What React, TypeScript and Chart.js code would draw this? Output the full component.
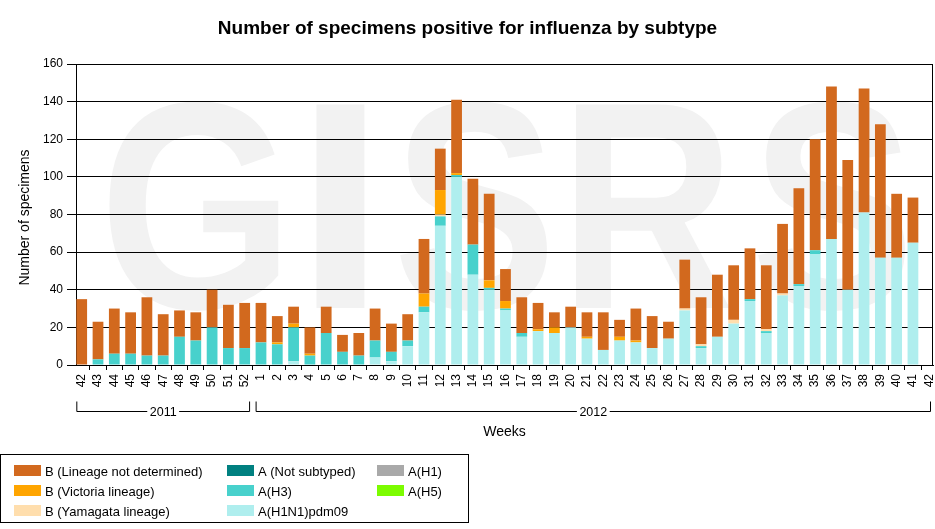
import React, { useEffect, useRef } from 'react';
import { Chart, registerables } from 'chart.js';

Chart.register(...registerables);

// ---------- data ----------
const WEEKS_2011 = ['42', '43', '44', '45', '46', '47', '48', '49', '50', '51', '52'];
const WEEKS_2012 = [
  '1', '2', '3', '4', '5', '6', '7', '8', '9', '10',
  '11', '12', '13', '14', '15', '16', '17', '18', '19', '20',
  '21', '22', '23', '24', '25', '26', '27', '28', '29', '30',
  '31', '32', '33', '34', '35', '36', '37', '38', '39', '40',
  '41', '42',
];
const YEAR_LABELS = ['2011', '2012'];
const WEEKS = [...WEEKS_2011, ...WEEKS_2012];

const Y_MIN = 0;
const Y_MAX = 160;
const Y_STEP = 20;

//                      2011: 42..52                       | 2012: 1..10                   | 11..20                              | 21..30                        | 31..40                          | 41,42
const A_H1N1PDM09 = [0, 0, 0, 0, 0, 0, 0, 0, 0, 0, 0, 0, 0, 2, 0, 0, 0, 0, 4, 2, 10, 28, 74, 100, 48, 40, 29, 15, 18, 17, 20, 14, 8, 13, 12, 9, 14, 29, 9, 15, 22, 34, 17, 37, 42, 59, 67, 40, 81, 57, 57, 65, 0];
const A_H3 = [0, 3, 6, 6, 5, 5, 15, 13, 20, 9, 9, 12, 11, 18, 5, 17, 7, 5, 9, 5, 3, 3, 5, 1, 16, 1, 1, 2, 0, 0, 0, 0, 0, 0, 0, 0, 0, 0, 1, 0, 0, 1, 1, 0, 1, 2, 0, 0, 0, 0, 0, 0, 0];
const A_NOT_SUBTYPED = [0, 0, 0, 0, 0, 0, 0, 0, 0, 0, 0, 0, 0, 0, 0, 0, 0, 0, 0, 0, 0, 0, 0, 0, 0, 0, 0, 0, 0, 0, 0, 0, 0, 0, 0, 0, 0, 0, 0, 0, 0, 0, 0, 0, 0, 0, 0, 0, 0, 0, 0, 0, 0];
const A_H1 = [0, 0, 0, 0, 0, 0, 0, 0, 0, 0, 0, 0, 0, 0, 0, 0, 0, 0, 0, 0, 0, 0, 0, 0, 0, 0, 0, 0, 0, 0, 0, 0, 0, 0, 0, 0, 0, 0, 0, 0, 0, 0, 0, 0, 0, 0, 0, 0, 0, 0, 0, 0, 0];
const A_H5 = [0, 0, 0, 0, 0, 0, 0, 0, 0, 0, 0, 0, 0, 0, 0, 0, 0, 0, 0, 0, 0, 0, 0, 0, 0, 0, 0, 0, 0, 0, 0, 0, 0, 0, 0, 0, 0, 0, 0, 0, 0, 0, 0, 0, 0, 0, 0, 0, 0, 0, 0, 0, 0];
const B_YAMAGATA = [0, 0, 0, 0, 0, 0, 0, 0, 0, 0, 0, 0, 0, 0, 0, 0, 0, 0, 0, 0, 0, 0, 1, 0, 0, 0, 0, 0, 0, 0, 0, 0, 0, 0, 0, 0, 0, 1, 1, 0, 2, 0, 1, 1, 0, 0, 0, 0, 0, 0, 0, 0, 0];
const B_VICTORIA = [0, 0, 0, 0, 0, 0, 0, 0, 0, 0, 0, 0, 1, 2, 1, 0, 0, 0, 0, 0, 0, 7, 13, 1, 0, 4, 4, 0, 1, 3, 0, 1, 0, 2, 1, 0, 0, 0, 0, 0, 0, 0, 0, 0, 0, 0, 0, 0, 0, 0, 0, 0, 0];
const B_NOT_DETERMINED = [35, 20, 24, 22, 31, 22, 14, 15, 20, 23, 24, 21, 14, 9, 14, 14, 9, 12, 17, 15, 14, 29, 22, 39, 35, 46, 17, 19, 14, 8, 11, 13, 20, 9, 17, 17, 9, 26, 25, 33, 29, 27, 34, 37, 51, 59, 81, 69, 66, 71, 34, 24, 0];

// series in stacking order (bottom -> top)
const SERIES = [
  { label: 'A(H1N1)pdm09', values: A_H1N1PDM09, color: '#AFEEEE' },
  { label: 'A(H3)', values: A_H3, color: '#48D1CC' },
  { label: 'A (Not subtyped)', values: A_NOT_SUBTYPED, color: '#008080' },
  { label: 'A(H1)', values: A_H1, color: '#A9A9A9' },
  { label: 'A(H5)', values: A_H5, color: '#7CFC00' },
  { label: 'B (Yamagata lineage)', values: B_YAMAGATA, color: '#FFDEAD' },
  { label: 'B (Victoria lineage)', values: B_VICTORIA, color: '#FFA500' },
  { label: 'B (Lineage not determined)', values: B_NOT_DETERMINED, color: '#D2691E' },
];

// legend columns (top -> bottom)
const LEGEND_COLUMNS = [
  ['B (Lineage not determined)', 'B (Victoria lineage)', 'B (Yamagata lineage)'],
  ['A (Not subtyped)', 'A(H3)', 'A(H1N1)pdm09'],
  ['A(H1)', 'A(H5)'],
];

const TITLE = 'Number of specimens positive for influenza by subtype';
const Y_TITLE = 'Number of specimens';
const X_TITLE = 'Weeks';
const WATERMARK = 'GISRS';

// ---------- styling ----------
const FONT = '"Liberation Sans", Arial, Helvetica, sans-serif';
const W = 935;
const H = 529;

const decorPlugin = {
  id: 'decor',
  beforeDraw(chart: any) {
    const ctx: CanvasRenderingContext2D = chart.ctx;
    ctx.save();
    ctx.fillStyle = '#ffffff';
    ctx.fillRect(0, 0, chart.width, chart.height);
    // watermark
    const inkX = [[107, 279], [315, 367], [397, 550], [575, 730], [755, 908]];
    const top = 100;
    const base = 308;
    ctx.font = `bold 290px ${FONT}`;
    ctx.textAlign = 'left';
    ctx.textBaseline = 'alphabetic';
    ctx.fillStyle = '#f2f2f2';
    const capH = ctx.measureText('I').actualBoundingBoxAscent || 207;
    const sy = (base - top) / capH;
    WATERMARK.split('').forEach((ch, i) => {
      const m = ctx.measureText(ch);
      const inkW = (m.actualBoundingBoxLeft + m.actualBoundingBoxRight) || m.width;
      const [x0, x1] = inkX[i];
      ctx.save();
      ctx.translate(x0, base);
      ctx.scale((x1 - x0) / inkW, sy);
      ctx.fillText(ch, m.actualBoundingBoxLeft, 0);
      ctx.restore();
    });
    ctx.restore();
  },
  afterDraw(chart: any) {
    const ctx: CanvasRenderingContext2D = chart.ctx;
    const area = chart.chartArea;
    const xs = chart.scales.x;
    ctx.save();
    ctx.fillStyle = '#000';
    ctx.strokeStyle = '#000';
    ctx.lineWidth = 1;

    // right border of plot
    ctx.beginPath();
    ctx.moveTo(Math.round(area.right) - 0.5, area.top);
    ctx.lineTo(Math.round(area.right) - 0.5, area.bottom);
    ctx.stroke();

    // title
    ctx.font = `bold 19px ${FONT}`;
    ctx.textAlign = 'center';
    ctx.textBaseline = 'alphabetic';
    ctx.fillText(TITLE, W / 2, 34);

    // y title
    ctx.font = `14px ${FONT}`;
    ctx.save();
    ctx.translate(28.5, (area.top + area.bottom) / 2 + 3);
    ctx.rotate(-Math.PI / 2);
    ctx.fillText(Y_TITLE, 0, 0);
    ctx.restore();

    // x title
    ctx.fillText(X_TITLE, (area.left + area.right) / 2, 436);

    // year brackets
    const groups = [
      { label: YEAR_LABELS[0], from: 0, to: WEEKS_2011.length - 1 },
      { label: YEAR_LABELS[1], from: WEEKS_2011.length, to: WEEKS.length - 1 },
    ];
    const lineY = 411.5;
    const tickTop = 401.5;
    ctx.font = `12.5px ${FONT}`;
    groups.forEach((g) => {
      const x0 = Math.max(xs.getPixelForValue(g.from - 0.3), area.left + 0.5);
      const x1 = Math.min(xs.getPixelForValue(g.to + 0.3), area.right - 2.5);
      const cx = (x0 + x1) / 2;
      const tw = ctx.measureText(g.label).width;
      ctx.beginPath();
      ctx.moveTo(x0, tickTop);
      ctx.lineTo(x0, lineY);
      ctx.lineTo(cx - tw / 2 - 2.5, lineY);
      ctx.moveTo(cx + tw / 2 + 2.5, lineY);
      ctx.lineTo(x1, lineY);
      ctx.lineTo(x1, tickTop);
      ctx.stroke();
      ctx.fillText(g.label, cx, 416);
    });

    // legend box
    ctx.strokeRect(0.5, 454.5, 468, 68);
    const colX = [14, 227, 377];
    const rowY = [465, 485, 505];
    ctx.font = `13px ${FONT}`;
    ctx.textAlign = 'left';
    LEGEND_COLUMNS.forEach((col, ci) => {
      col.forEach((label, ri) => {
        const s = SERIES.find((d) => d.label === label)!;
        ctx.fillStyle = s.color;
        ctx.fillRect(colX[ci], rowY[ri], 27, 11);
        ctx.fillStyle = '#000';
        ctx.fillText(label, colX[ci] + 31, rowY[ri] + 10.5);
      });
    });
    ctx.restore();
  },
};

export default function App() {
  const ref = useRef<HTMLCanvasElement>(null);

  useEffect(() => {
    const canvas = ref.current;
    if (!canvas) return;
    const tickFont = { family: FONT, size: 12 };
    const chart = new Chart(canvas, {
      type: 'bar',
      data: {
        datasets: SERIES.map((s) => ({
          label: s.label,
          data: s.values.map((v, i) => ({ x: i, y: v })),
          backgroundColor: s.color,
          borderWidth: 0,
          barPercentage: 0.66,
          categoryPercentage: 1,
          stack: 'all',
        })),
      },
      options: {
        animation: false,
        responsive: false,
        maintainAspectRatio: false,
        layout: { padding: { top: 64, right: 2, left: 0, bottom: 0 } },
        plugins: {
          legend: { display: false },
          title: { display: false },
          tooltip: { enabled: false },
        },
        scales: {
          x: {
            type: 'linear',
            stacked: true,
            min: -0.35,
            max: WEEKS.length - 1 + 0.23,
            offset: false,
            afterBuildTicks: (scale: any) => {
              scale.ticks = WEEKS.map((_, i) => ({ value: i }));
            },
            afterFit: (scale: any) => {
              scale.height = 164;
              scale.paddingLeft = 0;
              scale.paddingRight = 0;
            },
            ticks: {
              autoSkip: false,
              maxRotation: 90,
              minRotation: 90,
              padding: 4,
              color: '#000',
              font: tickFont,
              callback: (_v: any, i: number) => WEEKS[i],
            },
            grid: {
              drawOnChartArea: false,
              drawTicks: true,
              tickLength: 5,
              color: '#000',
            },
            border: { display: true, color: '#000' },
          },
          y: {
            stacked: true,
            min: Y_MIN,
            max: Y_MAX,
            afterFit: (scale: any) => {
              scale.width = 76;
              scale.paddingTop = 0;
              scale.paddingBottom = 0;
            },
            ticks: {
              stepSize: Y_STEP,
              padding: 4,
              color: '#000',
              font: tickFont,
            },
            grid: { color: '#000', lineWidth: 1, tickLength: 9 },
            border: { display: true, color: '#000' },
          },
        },
      },
      plugins: [decorPlugin],
    } as any);
    return () => chart.destroy();
  }, []);

  return (
    <div style={{ position: 'absolute', left: 0, top: 0, width: W, height: H, background: '#fff' }}>
      <canvas ref={ref} width={W} height={H} style={{ display: 'block', width: W, height: H }} />
    </div>
  );
}
